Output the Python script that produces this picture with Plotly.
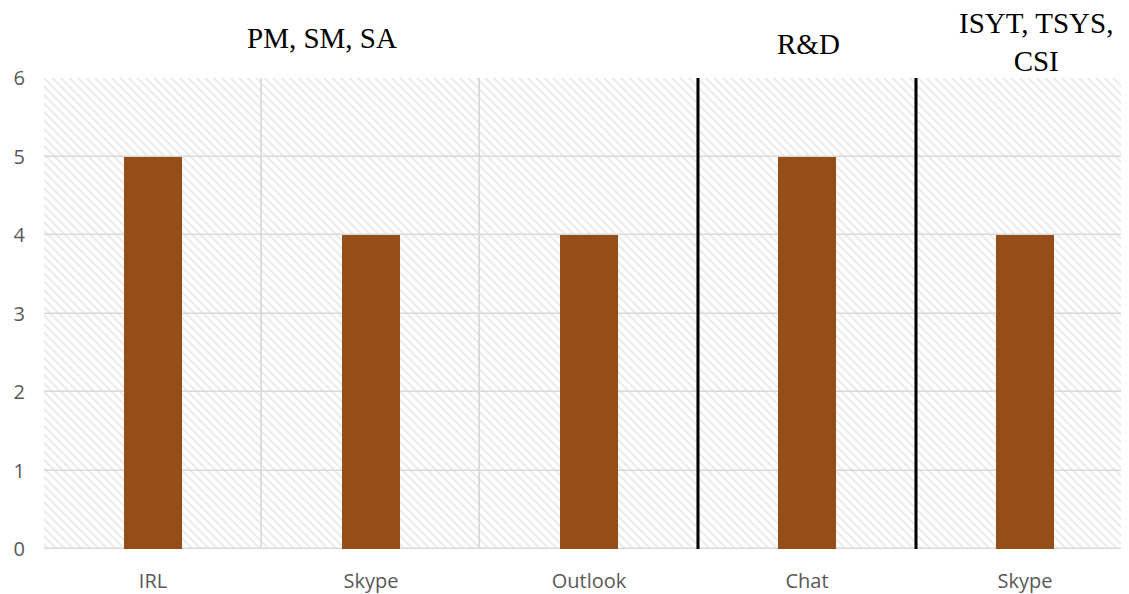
import plotly.graph_objects as go

# Data
categories = ["IRL", "Skype", "Outlook", "Chat", "Skype"]
groups = ["PM, SM, SA", "PM, SM, SA", "PM, SM, SA", "R&D", "ISYT, TSYS,<br>CSI"]
values = [5, 4, 4, 5, 4]
y_ticks = [0, 1, 2, 3, 4, 5, 6]
group_label_pos = [0.256, 0.705, 0.914]  # paper x-centres of the group titles
group_label_y = [1.085, 1.073, 1.077]

x_idx = list(range(len(categories)))
y_max = max(y_ticks)

fig = go.Figure()

# Hatched background cells (one per category per unit band) -> borders form the gridlines
bg_x, bg_base, bg_y = [], [], []
for xi in x_idx:
    for lvl in y_ticks[:-1]:
        bg_x.append(xi)
        bg_base.append(lvl)
        bg_y.append(1)
fig.add_trace(go.Bar(
    x=bg_x, y=bg_y, base=bg_base, width=1,
    marker=dict(color="white",
                line=dict(color="#d9d9d9", width=1.5),
                pattern=dict(shape="\\", fgcolor="#cfcfcf", bgcolor="white",
                             size=6, solidity=0.3)),
    hoverinfo="skip", showlegend=False,
))

# Data bars
fig.add_trace(go.Bar(
    x=x_idx, y=values, width=0.27,
    marker=dict(color="#964e18", line=dict(width=0)),
    showlegend=False,
))

# Group separators
for i in range(1, len(groups)):
    if groups[i] != groups[i - 1]:
        fig.add_trace(go.Scatter(
            x=[i - 0.5, i - 0.5], y=[0, y_max], mode="lines",
            line=dict(color="black", width=3),
            hoverinfo="skip", showlegend=False,
        ))

# Group titles
unique_groups = list(dict.fromkeys(groups))
for g, px, py in zip(unique_groups, group_label_pos, group_label_y):
    fig.add_annotation(
        text=g, x=px, y=py, xref="paper", yref="paper",
        showarrow=False, xanchor="center", yanchor="middle",
        font=dict(family="Liberation Serif, Times New Roman, serif", size=29, color="black"),
    )

# page body has an 8px margin: compensate so the plot lands where the reference has it
fig.update_layout(
    width=1121, height=586,
    margin=dict(l=36, r=0, t=70, b=45),
    plot_bgcolor="white", paper_bgcolor="white",
    barmode="overlay", bargap=0,
    font=dict(family="Open Sans, sans-serif", color="#595959", size=20),
)
fig.update_xaxes(
    tickmode="array", tickvals=x_idx, ticktext=categories,
    range=[-0.5, len(categories) - 0.5 - 0.023],
    showgrid=False, zeroline=False, showline=False, ticks="",
    tickfont=dict(size=20, color="#595959"),
    ticklabelstandoff=18,
)
fig.update_yaxes(
    range=[0, y_max], tickvals=y_ticks,
    showgrid=False, zeroline=False, showline=False, ticks="",
    tickfont=dict(size=20, color="#595959"),
    ticklabelstandoff=18,
)

fig.write_html("out.html")
